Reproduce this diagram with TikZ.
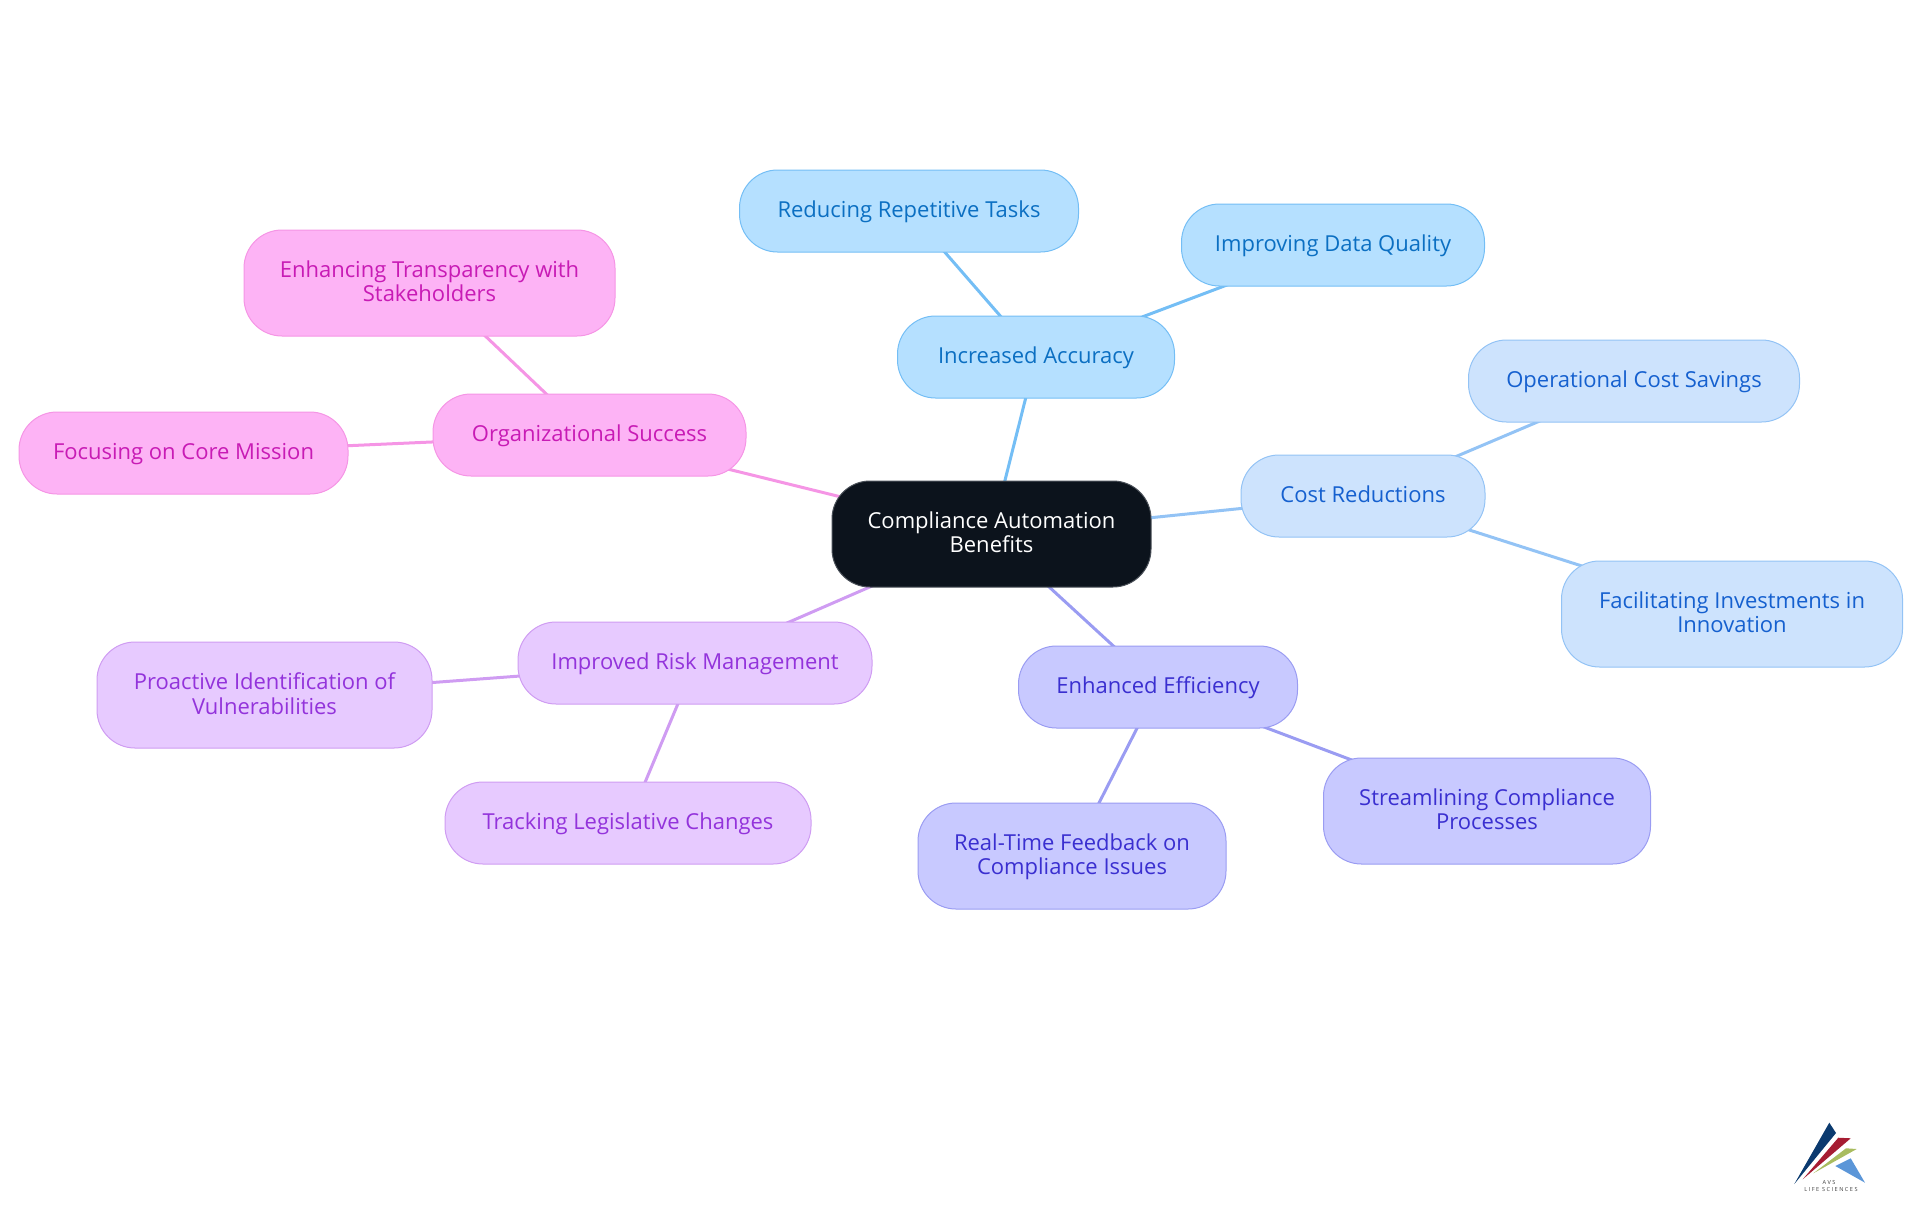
\documentclass[tikz,border=0pt]{standalone}
\usepackage{fontspec}
\setmainfont{Open Sans}
\usetikzlibrary{positioning,backgrounds}

\definecolor{rootfill}{HTML}{0C131C}
\definecolor{rootline}{HTML}{4A5058}
\definecolor{accfill}{HTML}{B5E0FF}
\definecolor{accline}{HTML}{74BEF5}
\definecolor{acctext}{HTML}{0B6FC2}
\definecolor{costfill}{HTML}{CDE3FD}
\definecolor{costline}{HTML}{93C3F5}
\definecolor{costtext}{HTML}{1560CF}
\definecolor{efffill}{HTML}{C8C9FF}
\definecolor{effline}{HTML}{9A9CF2}
\definecolor{efftext}{HTML}{3A2FD0}
\definecolor{riskfill}{HTML}{E7CAFF}
\definecolor{riskline}{HTML}{CF9CF2}
\definecolor{risktext}{HTML}{9333DB}
\definecolor{orgfill}{HTML}{FDB3F5}
\definecolor{orgline}{HTML}{F595E5}
\definecolor{orgtext}{HTML}{C81BB5}
\definecolor{logonavy}{HTML}{0B3A6F}
\definecolor{logored}{HTML}{A61C32}
\definecolor{logogreen}{HTML}{A9BC5F}
\definecolor{logoblue}{HTML}{5B96D8}

\tikzset{
  idea/.style={rectangle, rounded corners=19pt, line width=0.5pt, align=center,
    font=\fontsize{11}{12.2}\selectfont, inner sep=0pt, minimum height=41pt,
    text height=8pt, text depth=1.5pt},
  tall/.style={minimum height=53pt, text height=, text depth=1.6pt},
  rootidea/.style={idea, tall, fill=rootfill, draw=rootline, text=white},
  accidea/.style={idea, fill=accfill, draw=accline, text=acctext},
  costidea/.style={idea, fill=costfill, draw=costline, text=costtext},
  effidea/.style={idea, fill=efffill, draw=effline, text=efftext},
  riskidea/.style={idea, fill=riskfill, draw=riskline, text=risktext},
  orgidea/.style={idea, fill=orgfill, draw=orgline, text=orgtext},
  link/.style={line width=1.5pt},
  logotext/.style={font=\fontsize{2.8}{3}\selectfont, inner sep=0pt, text=black!75}
}

\begin{document}
\begin{tikzpicture}[x=0.5pt, y=-0.5pt]
      \useasboundingbox (0,0) rectangle (1920,1215);
      % Centre
      \node[rootidea, minimum width=159.5pt] at (991.5,534) (root) {Compliance Automation\\Benefits};
      % Accuracy branch
      \node[accidea, minimum width=138.5pt, above=41pt of root, xshift=22.25pt] (accuracy) {Increased Accuracy};
      \node[accidea, minimum width=169.5pt, above=31.5pt of accuracy, xshift=-63.5pt] (repetitive) {Reducing Repetitive Tasks};
      \node[accidea, minimum width=151.5pt, above=14.5pt of accuracy, xshift=148.5pt] (quality) {Improving Data Quality};
      % Cost branch
      \node[costidea, minimum width=122pt, right=44.5pt of root, yshift=19pt] (cost) {Cost Reductions};
      \node[costidea, minimum width=165.5pt, above=16pt of cost, xshift=135.5pt] (savings) {Operational Cost Savings};
      \node[costidea, tall, minimum width=170.5pt, below=11.5pt of cost, xshift=184.5pt] (innovation) {Facilitating Investments in\\Innovation};
      % Efficiency branch
      \node[effidea, minimum width=139.5pt, below=29pt of root, xshift=83.25pt] (efficiency) {Enhanced Efficiency};
      \node[effidea, tall, minimum width=163.5pt, right=12.5pt of efficiency, yshift=-62pt] (streamline) {Streamlining Compliance\\Processes};
      \node[effidea, tall, minimum width=154pt, below=37pt of efficiency, xshift=-43pt] (feedback) {Real-Time Feedback on\\Compliance Issues};
      % Risk branch
      \node[riskidea, minimum width=177pt, below=17pt of root, xshift=-148.25pt] (risk) {Improved Risk Management};
      \node[riskidea, tall, minimum width=167.5pt, left=42.5pt of risk, yshift=-16pt] (vulnerable) {Proactive Identification of\\Vulnerabilities};
      \node[riskidea, minimum width=183pt, below=38.5pt of risk, xshift=-33.5pt] (tracking) {Tracking Legislative Changes};
      % Success branch
      \node[orgidea, minimum width=156.5pt, left=42.5pt of root, yshift=49.5pt] (success) {Organizational Success};
      \node[orgidea, tall, minimum width=185.5pt, above=28.5pt of success, xshift=-80pt] (transparent) {Enhancing Transparency with\\Stakeholders};
      \node[orgidea, minimum width=164.5pt, left=42pt of success, yshift=-9pt] (mission) {Focusing on Core Mission};
      % Connect nodes
      \begin{scope}[on background layer]
        \draw[link, accline] (root.center) -- (accuracy.center);
        \draw[link, accline] (accuracy.center) -- (repetitive.center);
        \draw[link, accline] (accuracy.center) -- (quality.center);
        \draw[link, costline] (root.center) -- (cost.center);
        \draw[link, costline] (cost.center) -- (savings.center);
        \draw[link, costline] (cost.center) -- (innovation.center);
        \draw[link, effline] (root.center) -- (efficiency.center);
        \draw[link, effline] (efficiency.center) -- (streamline.center);
        \draw[link, effline] (efficiency.center) -- (feedback.center);
        \draw[link, riskline] (root.center) -- (risk.center);
        \draw[link, riskline] (risk.center) -- (vulnerable.center);
        \draw[link, riskline] (risk.center) -- (tracking.center);
        \draw[link, orgline] (root.center) -- (success.center);
        \draw[link, orgline] (success.center) -- (transparent.center);
        \draw[link, orgline] (success.center) -- (mission.center);
      \end{scope}
      % Logo
      \fill[logonavy] (1829.3,1122.7) -- (1836,1133) -- (1794.3,1184) -- cycle;
      \fill[logored] (1838.3,1137.7) -- (1850.7,1138.3) -- (1802.7,1179.3) -- cycle;
      \fill[logogreen] (1846,1148.3) -- (1856.7,1149) -- (1813.3,1173.3) -- cycle;
      \fill[logoblue] (1850.7,1158.3) -- (1865,1182.7) -- (1835.3,1166) -- cycle;
      \node[logotext] at (1829,1182) (logoname) {A V S};
      \node[logotext] at (1831,1189) (logosub) {L I F E\ \ S C I E N C E S};
    \end{tikzpicture}
\end{document}
